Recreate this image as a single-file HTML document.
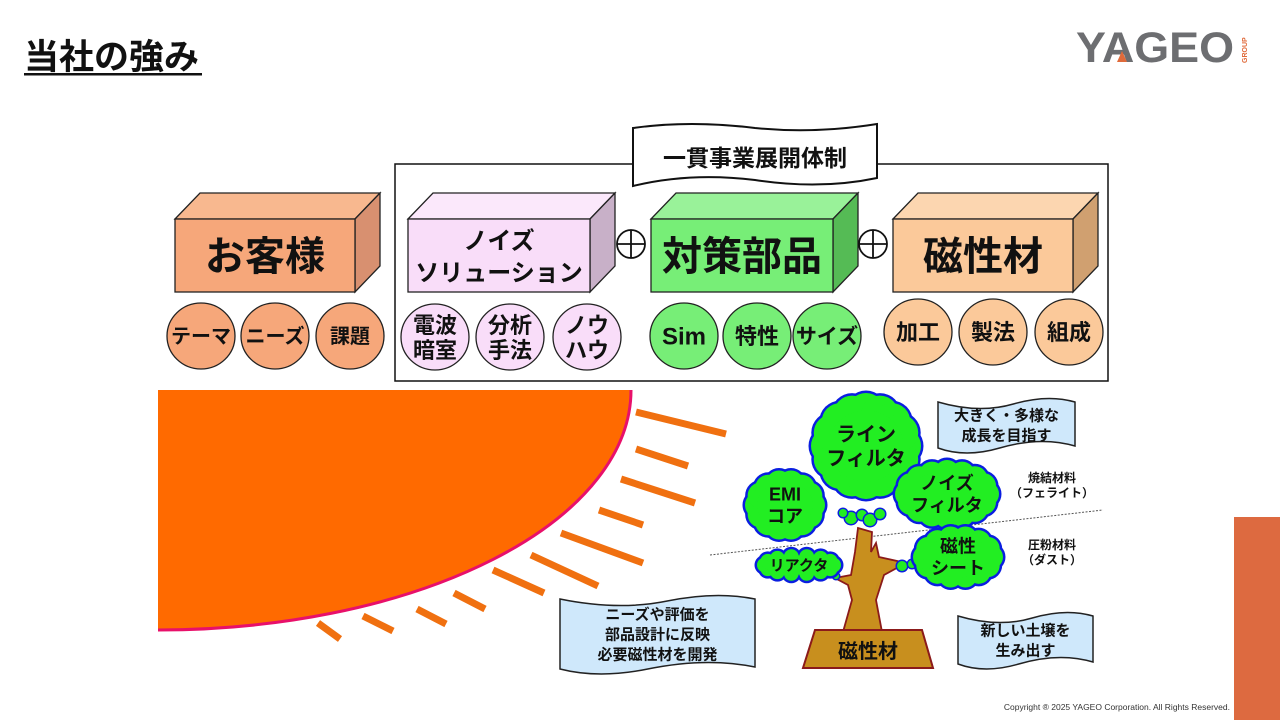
<!DOCTYPE html>
<html><head><meta charset="utf-8"><style>
html,body{margin:0;padding:0;background:#fff;}
svg{display:block;}
text{font-family:"Liberation Sans","Noto Sans CJK JP",sans-serif;font-weight:bold;fill:#111;}
</style></head><body>
<svg id="s" width="1280" height="720" viewBox="0 0 1280 720" xmlns="http://www.w3.org/2000/svg">
<rect width="1280" height="720" fill="#fff"/>
<text x="24" y="69" font-size="35">当社の強み</text>
<rect x="24" y="73" width="178" height="2.5" fill="#111"/>
<text x="1076" y="62" font-size="43" textLength="158" lengthAdjust="spacingAndGlyphs" style="fill:#6d6e71;font-family:'Liberation Sans',sans-serif">YAGEO</text>
<polygon points="1117,62 1122,51 1127,62" fill="#e06a3a"/>
<text x="0" y="0" font-size="7" transform="translate(1247,63) rotate(-90)" style="fill:#e06a3a">GROUP</text>
<rect x="1234" y="517" width="46" height="203" fill="#dd6a40"/>
<text x="1230" y="710" font-size="8.5" text-anchor="end" style="font-weight:normal;fill:#333">Copyright ® 2025 YAGEO Corporation. All Rights Reserved.</text>

<rect x="395" y="164" width="713" height="217" fill="none" stroke="#111" stroke-width="1.5"/>
<path d="M633,128 Q690,120 755,128 Q815,134 877,124 L877,178 Q820,190 755,180 Q690,172 633,186 Z" fill="#fff" stroke="#111" stroke-width="2"/>
<text x="755" y="166" font-size="23" text-anchor="middle">一貫事業展開体制</text>

<g id="boxes"></g>
<g id="dashes" stroke="#f07010" stroke-width="7"></g>
<g id="tree"></g>
</svg>
<script>
const NS="http://www.w3.org/2000/svg";
function el(p,tag,a,txt){const e=document.createElementNS(NS,tag);for(const k in a)e.setAttribute(k,a[k]);if(txt!==undefined)e.textContent=txt;p.appendChild(e);return e;}
const B=document.getElementById('boxes');
function box(x,y,w,h,front,top,side,label,fs,lines){
  const d=25,u=26;
  el(B,'polygon',{points:`${x},${y} ${x+d},${y-u} ${x+w+d},${y-u} ${x+w},${y}`,fill:top,stroke:'#222','stroke-width':1.3});
  el(B,'polygon',{points:`${x+w},${y} ${x+w+d},${y-u} ${x+w+d},${y+h-u} ${x+w},${y+h}`,fill:side,stroke:'#222','stroke-width':1.3});
  el(B,'rect',{x,y,width:w,height:h,fill:front,stroke:'#222','stroke-width':1.3});
  if(lines){lines.forEach((t,i)=>el(B,'text',{x:x+w/2,y:y+30+i*32,'font-size':fs,'text-anchor':'middle'},t));}
  else el(B,'text',{x:x+w/2,y:y+h/2+fs*0.36,'font-size':fs,'text-anchor':'middle'},label);
}
box(175,219,180,73,'#f6a77a','#f8b88f','#d89070','お客様',40);
box(408,219,182,73,'#f9ddf9','#fbe8fb','#c8b0c8','',24,['ノイズ','ソリューション']);
box(651,219,182,73,'#77ee77','#99f299','#55bb55','対策部品',40);
box(893,219,180,73,'#fbc99a','#fcd6b0','#d0a070','磁性材',40);
[[631,244],[873,244]].forEach(([x,y])=>{el(B,'circle',{cx:x,cy:y,r:14,fill:'#fff',stroke:'#111','stroke-width':1.8});el(B,'line',{x1:x-14,y1:y,x2:x+14,y2:y,stroke:'#111','stroke-width':1.8});el(B,'line',{x1:x,y1:y-14,x2:x,y2:y+14,stroke:'#111','stroke-width':1.8});});
function circ(cx,cy,fill,lines,fs){el(B,'ellipse',{cx,cy,rx:34,ry:33,fill,stroke:'#222','stroke-width':1.3});
 if(lines.length==1)el(B,'text',{x:cx,y:cy+fs*0.36,'font-size':fs,'text-anchor':'middle'},lines[0]);
 else lines.forEach((t,i)=>el(B,'text',{x:cx,y:cy-4+i*25,'font-size':fs,'text-anchor':'middle'},t));}
circ(201,336,'#f6a77a',['テーマ'],20);circ(275,336,'#f6a77a',['ニーズ'],20);circ(350,336,'#f6a77a',['課題'],20);
circ(435,337,'#f9ddf9',['電波','暗室'],22);circ(510,337,'#f9ddf9',['分析','手法'],22);circ(587,337,'#f9ddf9',['ノウ','ハウ'],22);
circ(684,336,'#77ee77',['Sim'],24);circ(757,336,'#77ee77',['特性'],22);circ(827,336,'#77ee77',['サイズ'],21);
circ(918,332,'#fbc99a',['加工'],22);circ(993,332,'#fbc99a',['製法'],22);circ(1069,332,'#fbc99a',['組成'],22);

el(B,'path',{d:'M158,390 L631,390 A473,240 0 0 1 158,630 Z',fill:'#ff6a00'});
el(B,'path',{d:'M631,390 A473,240 0 0 1 158,630',fill:'none',stroke:'#e8106a','stroke-width':3});
const D=document.getElementById('dashes');
[[636,412,726,434],[636,449,688,466],[621,479,695,503],[599,510,643,525],[561,533,643,563],[531,555,598,586],[493,570,544,593],[454,593,485,609],[417,609,446,624],[363,616,393,631],[318,623,340,639]].forEach(a=>el(D,'line',{x1:a[0],y1:a[1],x2:a[2],y2:a[3]}));

function banner(x,y,w,h,lines,fs){
  el(B,'path',{d:`M${x},${y+4} Q${x+w*0.3},${y+16} ${x+w*0.55},${y+6} Q${x+w*0.8},${y-4} ${x+w},${y+4} L${x+w},${y+h-6} Q${x+w*0.75},${y+h-16} ${x+w*0.45},${y+h-4} Q${x+w*0.2},${y+h+6} ${x},${y+h-4} Z`,fill:'#cfe8fb',stroke:'#222','stroke-width':1.5});
  const n=lines.length;lines.forEach((t,i)=>el(B,'text',{x:x+w/2,y:y+h/2+(i-(n-1)/2)*(fs+5)+fs*0.36,'font-size':fs,'text-anchor':'middle'},t));
}
banner(560,595,195,78,['ニーズや評価を','部品設計に反映','必要磁性材を開発'],15);
banner(938,398,137,54,['大きく・多様な','成長を目指す'],15);
banner(958,612,135,56,['新しい土壌を','生み出す'],15);

const T=document.getElementById('tree');
el(T,'line',{x1:710,y1:555,x2:1103,y2:510,stroke:'#555','stroke-width':1,'stroke-dasharray':'2,1.5'});
el(T,'text',{x:1052,y:482,'font-size':12,'text-anchor':'middle'},'焼結材料');
el(T,'text',{x:1052,y:497,'font-size':12,'text-anchor':'middle'},'（フェライト）');
el(T,'text',{x:1052,y:549,'font-size':12,'text-anchor':'middle'},'圧粉材料');
el(T,'text',{x:1052,y:564,'font-size':12,'text-anchor':'middle'},'（ダスト）');
el(T,'path',{d:'M858,528 L872,532 L871,552 L876,543 L879,557 L906,563 L884,575 L876,600 L882,632 L843,632 L852,600 L848,585 L835,578 L851,575 L855,552 Z',fill:'#c88f1e',stroke:'#8b1a1a','stroke-width':1.8});
el(T,'polygon',{points:'815,630 922,630 933,668 803,668',fill:'#c88f1e',stroke:'#8b1a1a','stroke-width':2});
el(T,'text',{x:868,y:658,'font-size':20,'text-anchor':'middle'},'磁性材');
function cloud(cx,cy,rx,ry,lines,fs,n){
  const r=Math.min(rx,ry)*0.3+2;
  const pts=[];for(let i=0;i<n;i++){const a=i/n*2*Math.PI;pts.push([cx+(rx-r-2)*Math.cos(a),cy+(ry-r-2)*Math.sin(a)]);}
  const g=el(T,'g',{});
  pts.forEach(p=>el(g,'circle',{cx:p[0],cy:p[1],r:r+2.5,fill:'#0a1ee0'}));
  pts.forEach(p=>el(g,'circle',{cx:p[0],cy:p[1],r:r,fill:'#22ee22'}));
  el(g,'ellipse',{cx,cy,rx:rx-r-1,ry:ry-r-1,fill:'#22ee22'});
  const m=lines.length;lines.forEach((t,i)=>el(g,'text',{x:cx,y:cy+(i-(m-1)/2)*(fs+4)+fs*0.36,'font-size':fs,'text-anchor':'middle'},t));
}
[[851,518,6],[862,515,5],[870,520,6],[843,513,4],[880,514,5],[902,566,5],[912,564,4],[828,572,3],[836,576,3]].forEach(c=>{el(T,'circle',{cx:c[0],cy:c[1],r:c[2]+1.5,fill:'#0a1ee0'});el(T,'circle',{cx:c[0],cy:c[1],r:c[2],fill:'#22ee22'});});
cloud(785,505,42,37,['EMI','コア'],18,14);
cloud(866,446,57,55,['ライン','フィルタ'],20,16);
cloud(947,494,54,36,['ノイズ','フィルタ'],18,16);
cloud(958,557,47,33,['磁性','シート'],18,14);
cloud(799,565,44,18,['リアクタ'],15,14);
</script>
</body></html>
